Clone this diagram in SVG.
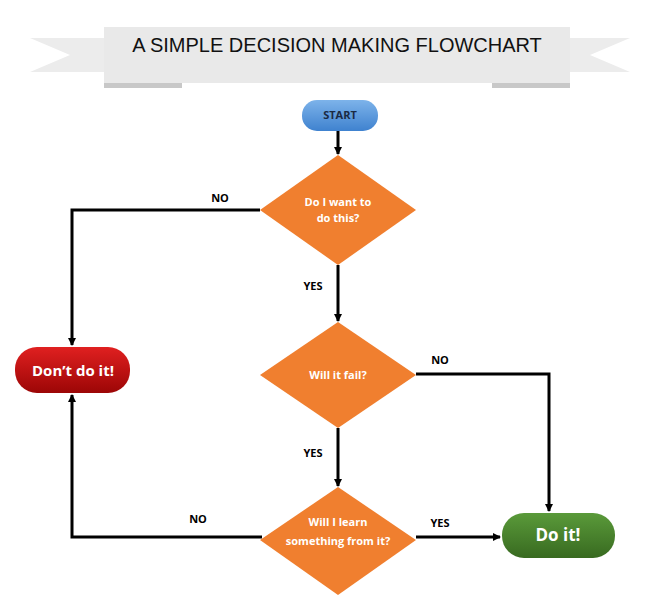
<svg xmlns="http://www.w3.org/2000/svg" width="660" height="610" viewBox="0 0 660 610">
<defs>
<marker id="ar" markerWidth="8" markerHeight="8" refX="7" refY="4" orient="auto" markerUnits="userSpaceOnUse"><path d="M0,0 L8,4 L0,8 z" fill="#000"/></marker>
<linearGradient id="gb" x1="0" y1="0" x2="0" y2="1"><stop offset="0" stop-color="#7db3ea"/><stop offset="1" stop-color="#3f82cf"/></linearGradient>
<linearGradient id="gr" x1="0" y1="0" x2="0" y2="1"><stop offset="0" stop-color="#e02020"/><stop offset="1" stop-color="#9c0606"/></linearGradient>
<linearGradient id="gg" x1="0" y1="0" x2="0" y2="1"><stop offset="0" stop-color="#5a9a3a"/><stop offset="1" stop-color="#386a20"/></linearGradient>
</defs>
<style>
.ln{fill:none;stroke:#000;stroke-width:3;marker-end:url(#ar)}
.lb{font-family:"Open Sans","Liberation Sans",sans-serif;font-size:11px;font-weight:bold;fill:#000;text-anchor:middle}
.dm{fill:#f07f2f}
.dt{font-family:"Open Sans","Liberation Sans",sans-serif;font-size:11px;font-weight:bold;fill:#fff;text-anchor:middle}
.tt{font-family:"Open Sans","Liberation Sans",sans-serif;font-weight:bold;fill:#fff;text-anchor:middle}
</style>
<rect width="660" height="610" fill="#fff"/>
<g id="banner">
<polygon points="30,38 104,38 104,72 30,72 70,55" fill="#ececec"/>
<polygon points="630,38 556,38 556,72 630,72 590,55" fill="#ececec"/>
<rect x="104" y="83" width="78" height="5" fill="#c8c8c8"/>
<rect x="492" y="83" width="78" height="5" fill="#c8c8c8"/>
<rect x="104" y="27" width="466" height="56" fill="#e9e9e9"/>
<text x="337" y="52" font-family="'Liberation Sans',sans-serif" font-size="20" fill="#111" text-anchor="middle">A SIMPLE DECISION MAKING FLOWCHART</text>
</g>
<g id="connectors">
<path class="ln" d="M338,131 V154"/>
<path class="ln" d="M260,210 H72 V345"/>
<path class="ln" d="M338,265 V321"/>
<path class="ln" d="M416,374 H549 V511"/>
<path class="ln" d="M338,428 V486"/>
<path class="ln" d="M262,537 H72 V395"/>
<path class="ln" d="M416,537 H500"/>
<text class="lb" x="220" y="202">NO</text>
<text class="lb" x="313" y="290">YES</text>
<text class="lb" x="440" y="364">NO</text>
<text class="lb" x="313" y="457">YES</text>
<text class="lb" x="198" y="523">NO</text>
<text class="lb" x="440" y="527">YES</text>
</g>
<g id="start"><rect x="302" y="100" width="76" height="31" rx="15" fill="url(#gb)"/><text class="lb" x="340" y="119" style="fill:#1a2a44">START</text></g>
<g id="d1"><polygon class="dm" points="338,155 416,210 338,265 260,210"/><text class="dt" x="338" y="206">Do I want to</text><text class="dt" x="338" y="222">do this?</text></g>
<g id="d2"><polygon class="dm" points="338,322 416,375 338,428 260,375"/><text class="dt" x="338" y="379">Will it fail?</text></g>
<g id="d3"><polygon class="dm" points="338,487 416,540 338,595 260,540"/><text class="dt" x="338" y="526">Will I learn</text><text class="dt" x="338" y="545">something from it?</text></g>
<g id="dont"><rect x="15" y="347" width="115" height="46" rx="22" fill="url(#gr)"/><text class="tt" x="73" y="376" font-size="15">Don’t do it!</text></g>
<g id="doit"><rect x="502" y="513" width="113" height="45" rx="22" fill="url(#gg)"/><text class="tt" x="558" y="541" font-size="17">Do it!</text></g>
</svg>
